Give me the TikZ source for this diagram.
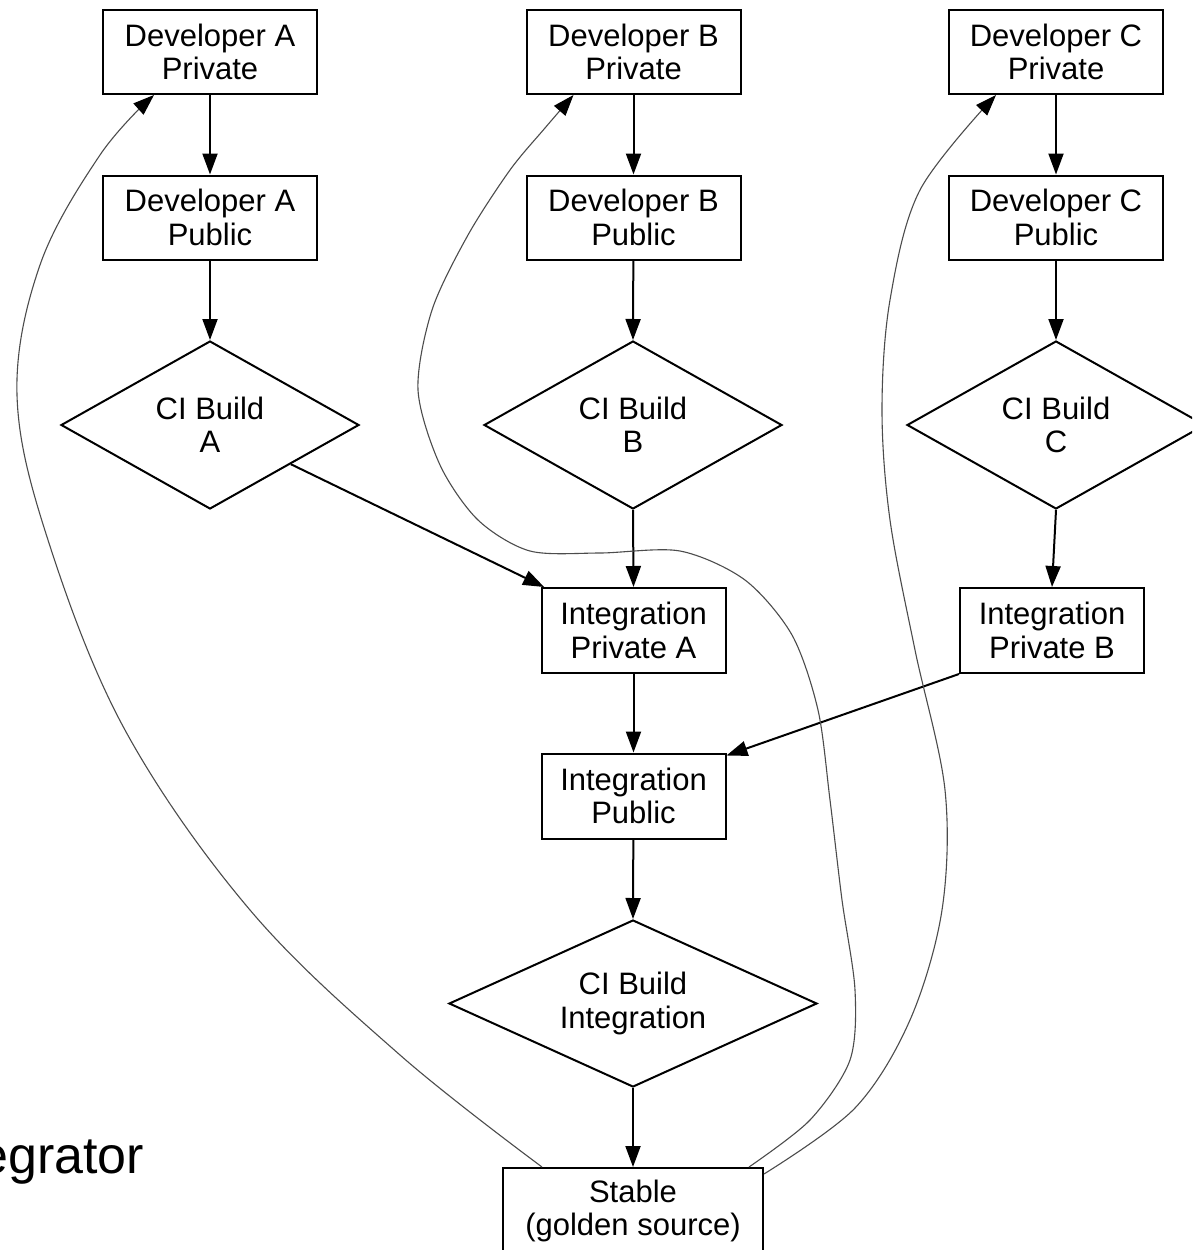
\documentclass[tikz,border=0pt]{standalone}
\usepackage{fontspec}
\setmainfont{Liberation Sans}
\usetikzlibrary{shapes.geometric,arrows.meta}
\begin{document}
\begin{tikzpicture}[x=1pt,y=-1pt,
  txt/.style={font=\fontsize{31}{33.5}\selectfont, align=center, inner sep=0pt},
  devbox/.style={txt, draw, line width=2pt, rectangle, minimum width=214pt, minimum height=84pt},
  intbox/.style={txt, draw, line width=2pt, rectangle, minimum width=184pt, minimum height=85pt},
  stablebox/.style={txt, draw, line width=2pt, rectangle, minimum width=260pt, minimum height=86pt},
  cidia/.style={txt, draw, line width=2pt, diamond, aspect=1.77, minimum width=298pt, minimum height=168pt},
  cibig/.style={txt, draw, line width=2pt, diamond, aspect=2.2, minimum width=368pt, minimum height=167pt},
  flow/.style={line width=2pt, -{Triangle[length=21pt,width=15pt]}},
  back/.style={line width=1.1pt, draw=black!70, -{Triangle[length=21pt,width=15pt,fill=black,color=black]}}
]
\useasboundingbox (0,0) rectangle (1192,1250);
\clip (0,0) rectangle (1192,1250);
\fill[white] (0,0) rectangle (1192,1250);

% column A
\node[devbox] (devAp) at (210,52) {Developer A\\Private};
\node[devbox] (devApub) at (210,217.5) {Developer A\\Public};
\node[cidia] (ciA) at (210,425) {CI Build\\A};
% column B
\node[devbox] (devBp) at (633.5,52) {Developer B\\Private};
\node[devbox] (devBpub) at (633.5,217.5) {Developer B\\Public};
\node[cidia] (ciB) at (633,425) {CI Build\\B};
% column C
\node[devbox] (devCp) at (1056,52) {Developer C\\Private};
\node[devbox] (devCpub) at (1056,217.5) {Developer C\\Public};
\node[cidia] (ciC) at (1056,425) {CI Build\\C};
% integration
\node[intbox] (ipa) at (633.5,630.5) {Integration\\Private A};
\node[intbox] (ipb) at (1052,630.5) {Integration\\Private B};
\node[intbox] (ipub) at (633.5,796) {Integration\\Public};
\node[cibig] (ciI) at (633,1003.5) {CI Build\\Integration};
\node[stablebox] (stable) at (633,1211) {Stable\\(golden source)};

\node[font=\fontsize{52}{56}\selectfont, anchor=base west, inner sep=0pt] (integ) at (-21,1173) {egrator};

% main flow
\draw[flow] (devAp) -- (devApub);
\draw[flow] (devApub) -- (ciA.north);
\draw[flow] (devBp) -- (devBpub);
\draw[flow] (devBpub) -- (ciB.north);
\draw[flow] (devCp) -- (devCpub);
\draw[flow] (devCpub) -- (ciC.north);
\draw[flow] (ciA) -- (ipa);
\draw[flow] (ciB.south) -- (ipa.north);
\draw[flow] (ciC.south) -- (ipb.north);
\draw[flow] (ipa) -- (ipub);
\draw[flow] (ipb.south west) -- ([yshift=-3pt]ipub.north east);
\draw[flow] (ipub) -- (ciI.north);
\draw[flow] (ciI.south) -- (stable.north);

% back edges
\draw[back] plot[smooth, tension=0.6] coordinates {([xshift=40pt]stable.north west) (400,1055) (250,910) (125,730) (48,540) (17,395) (40,265) (100,155) ([xshift=52pt]devAp.south west)};
\draw[back] plot[smooth, tension=0.5] coordinates {([xshift=-15pt]stable.north east) (810,1120) (850,1060) (855,990) (842,900) (830,800) (818,710) (792,635) (745,580) (680,551) (600,553) (530,551) (478,520) (440,465) (418,390) (432,310) (468,235) (510,170) (545,128) ([xshift=48pt]devBp.south west)};
\draw[back] plot[smooth, tension=0.55] coordinates {([yshift=-7pt]stable.north east) (855,1108) (910,1020) (942,910) (945,790) (915,650) (890,520) (882,410) (890,300) (920,190) ([xshift=48pt]devCp.south west)};
\end{tikzpicture}
\end{document}
